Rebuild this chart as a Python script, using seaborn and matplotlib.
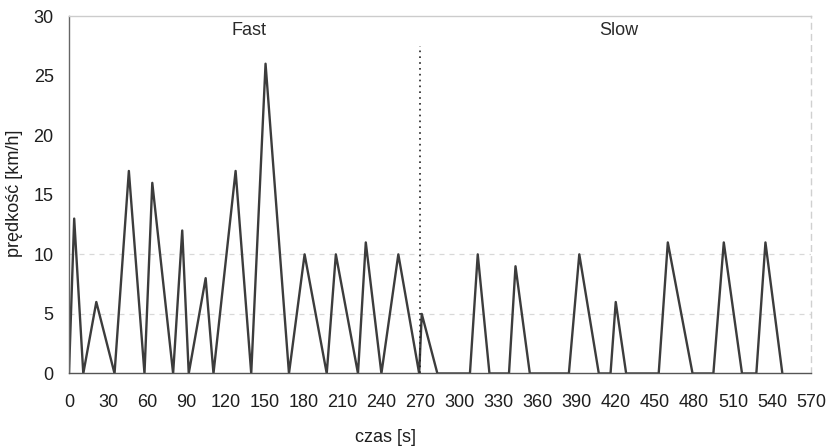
import numpy as np
import pandas as pd
import matplotlib
matplotlib.use('Agg')
import matplotlib.pyplot as plt
import seaborn as sns

# time [s] and speed [km/h]
czas = [0, 4, 11, 21, 35, 46, 58, 64, 80, 87,
        92, 105, 111, 128, 140, 151, 169, 181, 198, 205,
        222, 228, 240, 253, 269, 271, 283, 308, 314, 323,
        338, 343, 354, 384, 392, 407, 416, 420, 428, 453,
        460, 479, 495, 503, 517, 528, 535, 548]
predkosc = [0, 13, 0, 6, 0, 17, 0, 16, 0, 12,
            0, 8, 0, 17, 0, 26, 0, 10, 0, 10,
            0, 11, 0, 10, 0, 5, 0, 0, 10, 0,
            0, 9, 0, 0, 10, 0, 0, 6, 0, 0,
            11, 0, 0, 11, 0, 0, 11, 0]

x_ticks = list(range(0, 571, 30))
y_ticks = [0, 5, 10, 15, 20, 25, 30]
grid_levels = [5, 10]
split_time = 270
phase_labels = ['Fast', 'Slow']
phase_pos = [138, 422]

df = pd.DataFrame({'czas': czas, 'v': predkosc})

sns.set_style('white')
plt.rcParams['font.family'] = ['Liberation Sans', 'DejaVu Sans']

fig = plt.figure(figsize=(8.33, 4.46), dpi=100)
ax = fig.add_axes([0.0828, 0.1626, 0.8908, 0.8014])

for g in grid_levels:
    ax.axhline(g, color='#d8d8d8', lw=0.9, ls=(0, (4, 4)), zorder=0)

sns.lineplot(data=df, x='czas', y='v', ax=ax, sort=False, estimator=None,
             color='#3c3c3c', lw=1.7)

ax.vlines(split_time, 0, 27.5, colors='#222222', linestyles=(0, (1, 2.5)), lw=1.2)

for lab, xp in zip(phase_labels, phase_pos):
    ax.text(xp, 28.8, lab, ha='center', va='center', fontsize=13, color='#2a2a2a')

ax.set_xlim(0, 570)
ax.set_ylim(0, 30)
ax.set_xticks(x_ticks)
ax.set_yticks(y_ticks)
ax.tick_params(axis='both', length=0, labelsize=13, colors='#1e1e1e')
ax.tick_params(axis='x', pad=15)
ax.tick_params(axis='y', pad=11)

ax.spines['left'].set_color('#666666')
ax.spines['bottom'].set_color('#555555')
ax.spines['top'].set_color('#cccccc')
ax.spines['right'].set_color('#d0d0d0')
ax.spines['right'].set_linestyle((0, (4, 4)))
for s in ax.spines.values():
    s.set_linewidth(1.0)

ax.set_xlabel('czas [s]', fontsize=13, color='#1e1e1e')
ax.set_ylabel('prędkość [km/h]', fontsize=13, color='#1e1e1e')
ax.xaxis.set_label_coords(0.426, -0.155)
ax.yaxis.set_label_coords(-0.062, 0.505)

fig.savefig('out.png', dpi=100)
